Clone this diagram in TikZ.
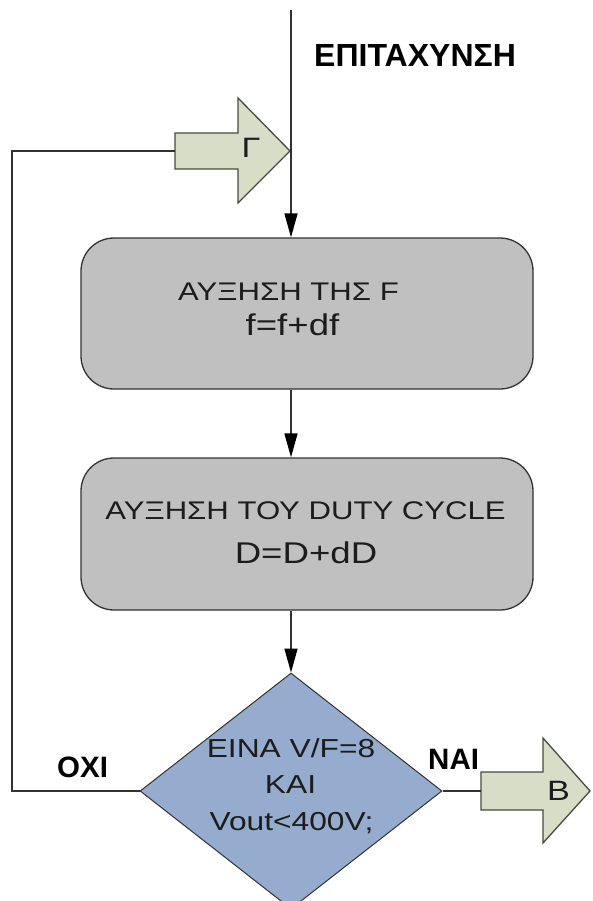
\documentclass[tikz,border=0pt]{standalone}
\usepackage{fontspec}
\setmainfont{Liberation Sans}
\newfontfamily\widesans[FakeStretch=1.22]{Liberation Sans}
\usetikzlibrary{arrows.meta,shapes.geometric}

\definecolor{boxgray}{RGB}{192,192,192}
\definecolor{decblue}{RGB}{149,172,207}
\definecolor{tagfill}{RGB}{216,221,200}
\definecolor{tagline}{RGB}{70,76,60}
\definecolor{edge}{RGB}{50,50,50}
\definecolor{ink}{RGB}{28,28,28}

\begin{document}
\begin{tikzpicture}[x=1pt,y=-1pt,
  conn/.style={draw=edge,line width=1.5pt},
  flow/.style={conn,-{Triangle[length=24pt,width=13pt,color=black]}},
  stepbox/.style={draw=edge,line width=1.3pt,fill=boxgray,rounded corners=33pt,
    minimum width=452pt,inner sep=0pt},
  decision/.style={diamond,draw=edge,line width=1pt,fill=decblue,
    minimum width=302pt,minimum height=236pt,inner sep=0pt},
  tag/.style={draw=tagline,line width=1.3pt,fill=tagfill,line join=miter},
  txt/.style={anchor=base,text=ink,inner sep=0pt},
  smalltxt/.style={txt,font=\widesans\fontsize{25.5}{30}\selectfont},
  largetxt/.style={txt,font=\widesans\fontsize{30}{36}\selectfont},
  dectxt/.style={txt,font=\widesans\fontsize{26}{31}\selectfont},
  tagtxt/.style={txt,font=\widesans\fontsize{28}{33}\selectfont},
  boldlabel/.style={anchor=base west,text=black,inner sep=0pt,font=\bfseries\fontsize{29.5}{35}\selectfont}
]
\useasboundingbox (0,0) rectangle (592,901);
\clip (0,0) rectangle (592,901);

% process steps
\node[stepbox,minimum height=151pt] (b1) at (307,313.5) {};
\node[smalltxt] (b1a) at (288.5,300) {ΑΥΞΗΣΗ ΤΗΣ F};
\node[largetxt] (b1b) at (292.5,335) {f=f+df};

\node[stepbox,minimum height=152pt] (b2) at (307,534) {};
\node[smalltxt] (b2a) at (305.5,519) {ΑΥΞΗΣΗ ΤΟΥ DUTY CYCLE};
\node[largetxt] (b2b) at (306,563) {D=D+dD};

% decision
\node[decision] (dec) at (291,791) {};
\node[dectxt] (d1) at (291,757) {ΕΙΝΑ V/F=8};
\node[dectxt] (d2) at (290.5,793) {ΚΑΙ};
\node[dectxt] (d3) at (291.5,830) {Vout<400V;};

% off-page connectors
\coordinate (gtail) at (175,151);
\draw[tag] (gtail) -- (175,133) -- (238,133) -- (238,98) -- (290,151)
  -- (238,203) -- (238,169) -- (175,169) -- cycle;
\node[tagtxt] (gl) at (251,158) {Γ};

\coordinate (btail) at (481,791);
\draw[tag] (btail) -- (481,772) -- (543,772) -- (543,738) -- (590,791)
  -- (543,843) -- (543,810) -- (481,810) -- cycle;
\node[tagtxt] (bl) at (558.5,800) {Β};

% flow lines
\coordinate (top) at (291,10);
\coordinate (lc) at (12,791);
\draw[flow] (top) -- (top |- b1.north);
\draw[flow] (b1.south -| top) -- (b2.north -| top);
\draw[flow] (b2.south -| top) -- (dec.north);
\draw[conn] (dec.west) -- (lc) |- (gtail);
\draw[conn] (dec.east) -- (btail);

% labels
\node[boldlabel,font=\bfseries\fontsize{32}{38}\selectfont] (acc) at (314,67) {ΕΠΙΤΑΧΥΝΣΗ};
\node[boldlabel] (no) at (57,777) {ΟΧΙ};
\node[boldlabel] (yes) at (428,769) {ΝΑΙ};
\end{tikzpicture}
\end{document}
